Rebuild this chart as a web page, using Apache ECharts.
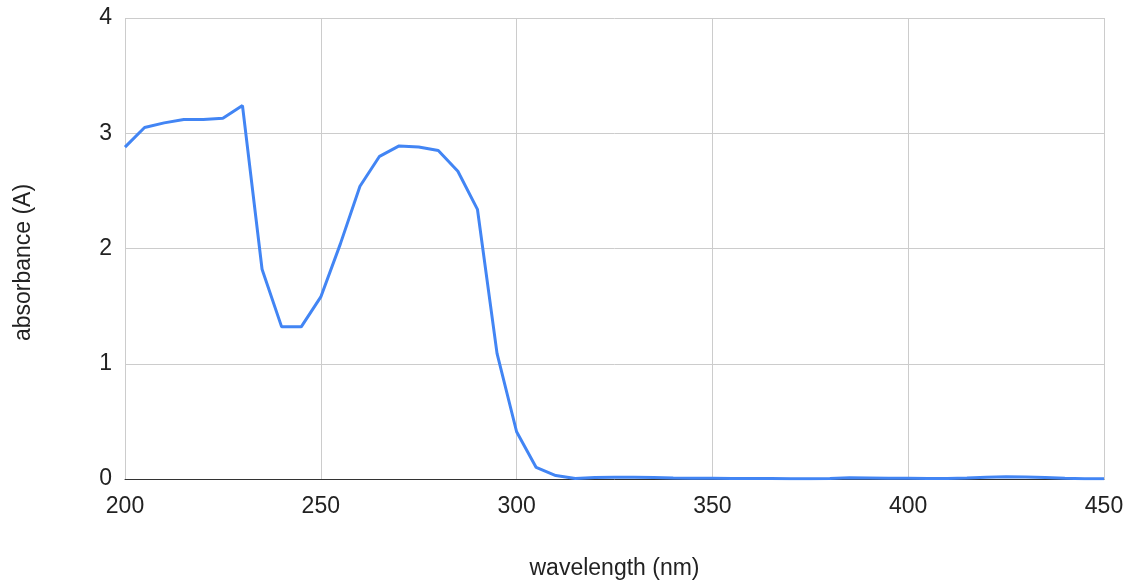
<!DOCTYPE html>
<html>
<head>
<meta charset="utf-8">
<script src="https://cdn.jsdelivr.net/npm/echarts@6/dist/echarts.min.js"></script>
<style>
  html, body { margin: 0; padding: 0; background: #fff; }
  #chart { width: 1133px; height: 585px; }
</style>
</head>
<body>
<div id="chart"></div>
<script>
// wavelength (nm) and absorbance (A)
var wavelength = [200, 205, 210, 215, 220, 225, 230, 235, 240, 245,
                  250, 255, 260, 265, 270, 275, 280, 285, 290, 295,
                  300, 305, 310, 315, 320, 325, 330, 335, 340, 345,
                  350, 355, 360, 365, 370, 375, 380, 385, 390, 395,
                  400, 405, 410, 415, 420, 425, 430, 435, 440, 445, 450];
var absorbance = [2.88, 3.05, 3.09, 3.12, 3.12, 3.13, 3.24, 1.82, 1.32, 1.32,
                  1.58, 2.04, 2.54, 2.80, 2.89, 2.88, 2.85, 2.67, 2.34, 1.09,
                  0.41, 0.10, 0.03, 0.005, 0.012, 0.016, 0.016, 0.012, 0.008, 0.006,
                  0.006, 0.005, 0.004, 0.004, 0.003, 0.003, 0.004, 0.01, 0.008, 0.006,
                  0.006, 0.005, 0.004, 0.008, 0.016, 0.02, 0.018, 0.012, 0.006, 0.003, 0.002];
var xTicks = { min: 200, max: 450, interval: 50 };
var yTicks = { min: 0, max: 4, interval: 1 };

var seriesData = wavelength.map(function (w, i) { return [w, absorbance[i]]; });

var chart = echarts.init(document.getElementById('chart'), null, { renderer: 'canvas' });
chart.setOption({
    backgroundColor: '#ffffff',
    animation: false,
    textStyle: { fontFamily: 'Liberation Sans, Arial, sans-serif' },
    grid: { left: 125, right: 29, top: 18, bottom: 104 },
    xAxis: {
        type: 'value',
        min: xTicks.min, max: xTicks.max, interval: xTicks.interval,
        name: 'wavelength (nm)',
        nameLocation: 'middle',
        nameGap: 78,
        nameTextStyle: { fontSize: 23, color: '#222' },
        axisLine: { show: true, lineStyle: { color: '#333', width: 1 } },
        axisTick: { show: false },
        axisLabel: { fontSize: 23, color: '#222', margin: 16 },
        splitLine: { show: true, lineStyle: { color: '#cccccc', width: 1 } }
    },
    yAxis: {
        type: 'value',
        min: yTicks.min, max: yTicks.max, interval: yTicks.interval,
        name: 'absorbance (A)',
        nameLocation: 'middle',
        nameRotate: 90,
        nameGap: 90,
        // google-style title sits a bit below the plot's middle
        nameTextStyle: { fontSize: 23, color: '#222', padding: [0, 28, 0, 0] },
        axisLine: { show: false },
        axisTick: { show: false },
        axisLabel: { fontSize: 23, color: '#222', margin: 13 },
        splitLine: { show: true, lineStyle: { color: '#cccccc', width: 1 } }
    },
    series: [{
        type: 'line',
        data: seriesData,
        showSymbol: false,
        smooth: false,
        lineStyle: { color: '#4285f4', width: 3 },
        itemStyle: { color: '#4285f4' }
    }]
});
</script>
</body>
</html>
